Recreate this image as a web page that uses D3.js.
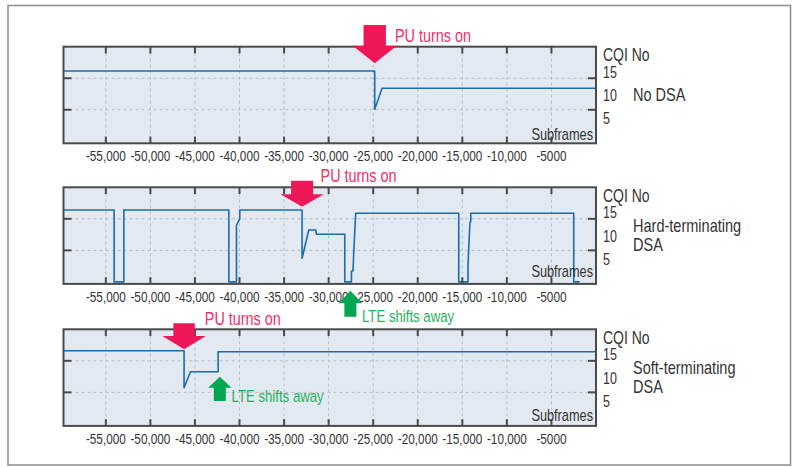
<!DOCTYPE html>
<html>
<head>
<meta charset="utf-8">
<script src="https://cdn.jsdelivr.net/npm/d3@7"></script>
<style>
  body { margin: 0; background: #fff; }
  svg { display: block; }
  text { font-family: "Liberation Sans", Arial, sans-serif; }
</style>
</head>
<body>
<svg id="chart" width="798" height="467"></svg>
<script>
// Subframe axis ticks and their printed labels
const xTicks = [-55000, -50000, -45000, -40000, -35000, -30000, -25000, -20000, -15000, -10000, -5000];
const xTickLabels = ["-55,000", "-50,000", "-45,000", "-40,000", "-35,000", "-30,000", "-25,000", "-20,000", "-15,000", "-10,000", "-5000"];
const cqiTickLabels = [15, 10, 5];
const cqiGrid = [10, 5];

// CQI traces: [subframe, CQI]
const noDsa = [
  [-59750, 11.15], [-24830, 11.15], [-24830, 5.07], [-24000, 8.4], [0, 8.4]
];
const hardDsa = [
  [-59750, 11.4], [-54070, 11.4], [-54070, 0], [-52980, 0], [-52980, 11.4],
  [-41200, 11.4], [-41200, 0], [-40340, 0], [-40340, 9.0], [-39970, 10.0], [-39970, 11.4],
  [-32980, 11.4], [-32980, 3.74], [-32230, 8.23], [-31450, 8.23], [-31370, 7.55],
  [-28190, 7.55], [-28190, 0], [-27440, 0], [-27440, 1.73], [-27260, 1.73],
  [-27180, 4.8], [-27080, 7.6], [-26960, 10.88],
  [-15400, 10.88], [-15400, 0], [-14360, 0], [-14360, 2.75], [-14150, 9.35], [-14050, 9.6], [-14050, 10.88],
  [-2500, 10.88], [-2500, 0], [-1830, 0]
];
const softDsa = [
  [-59750, 11.6], [-46220, 11.6], [-46220, 5.74], [-45500, 8.28], [-42400, 8.28], [-42400, 11.45], [0, 11.45]
];

const seriesNames = [["No DSA"], ["Hard-terminating", "DSA"], ["Soft-terminating", "DSA"]];
const puOnAt = [-24830, -32980, -46220];
const lteAwayAt = [null, -27560, -42210];
const puText = "PU turns on";
const lteText = "LTE shifts away";

const svg = d3.select("#chart");
const C = {
  frameBg: "#e3e9f1", frame: "#4a4a4a", grid: "#b9bcc2", line: "#1c6dad",
  pink: "#ee1758", pinkText: "#ee2f6c", green: "#00a651", greenText: "#1fb25a", text: "#333"
};

// add a text squeezed horizontally by k around its anchor point (condensed lettering)
function label(parent, tx, ty, str, size, k, opts = {}) {
  return parent.append("text")
    .attr("transform", `translate(${tx},${ty}) scale(${k},1)`)
    .attr("text-anchor", opts.anchor || "start")
    .attr("font-size", size)
    .attr("fill", opts.fill || C.text)
    .text(str);
}

svg.append("rect").attr("x", 8).attr("y", 5.5).attr("width", 782.5).attr("height", 459.5)
  .attr("fill", "none").attr("stroke", "#8c8c8c").attr("stroke-width", 1.5);

const x = d3.scaleLinear().domain([-59750, 0]).range([63.5, 596]);
const frameH = 96.6;

// per-panel layout
const panels = [
  { data: noDsa, top: 46.7, subOff: 3.5,
    pu: { tipCqi: 12.37, shaftW: 22.4, shaftH: 20.7, headW: 44, headH: 17.6, tx: 20.3, ty: -21.6 } },
  { data: hardDsa, top: 187.3, subOff: 6.7,
    pu: { tipCqi: 11.92, shaftW: 22, shaftH: 13.6, headW: 43.3, headH: 12.4, tx: 18.5, ty: -25 },
    lte: { tipCqi: -1.39, shaftW: 12, shaftH: 13.4, headW: 23.4, headH: 12.6, tx: 11.6, ty: 31.3 } },
  { data: softDsa, top: 329.3, subOff: 5.3,
    pu: { tipCqi: 11.83, shaftW: 21.4, shaftH: 12.7, headW: 43.4, headH: 13.3, tx: 20.7, ty: -24.3 },
    lte: { tipCqi: 7.48, shaftW: 12, shaftH: 13.3, headW: 23.4, headH: 11, tx: 11.7, ty: 25.6 } }
];

function arrowPath(tx, ty, a, dir) {
  // dir = 1 points down, dir = -1 points up
  const b = ty - dir * a.headH, t = b - dir * a.shaftH;
  return `M${tx - a.shaftW / 2},${t}L${tx + a.shaftW / 2},${t}L${tx + a.shaftW / 2},${b}` +
         `L${tx + a.headW / 2},${b}L${tx},${ty}L${tx - a.headW / 2},${b}L${tx - a.shaftW / 2},${b}Z`;
}

panels.forEach((p, i) => {
  const top = p.top, bottom = top + frameH;
  const y = d3.scaleLinear().domain([0, 15]).range([top + 94.6, top]);
  // right-hand CQI labels sit on their own compressed scale
  const labelY = d3.scaleLinear().domain([0, 15]).range([top + 31 + 15 * 4.66, top + 31]);
  const g = svg.append("g");
  const [x0, x1] = x.range();

  g.append("rect").attr("x", x0).attr("y", top).attr("width", x1 - x0).attr("height", frameH)
    .attr("fill", C.frameBg);

  g.selectAll(".vg").data(xTicks).join("line")
    .attr("x1", d => x(d)).attr("x2", d => x(d)).attr("y1", top).attr("y2", bottom)
    .attr("stroke", C.grid).attr("stroke-width", 1).attr("stroke-dasharray", "3,3");
  g.selectAll(".hg").data(cqiGrid).join("line")
    .attr("x1", x0).attr("x2", x1).attr("y1", d => y(d)).attr("y2", d => y(d))
    .attr("stroke", C.grid).attr("stroke-width", 1).attr("stroke-dasharray", "3,3");

  g.append("path").datum(p.data)
    .attr("d", d3.line().x(d => x(d[0])).y(d => y(d[1])))
    .attr("fill", "none").attr("stroke", C.line).attr("stroke-width", 1.6).attr("stroke-linejoin", "round");

  g.append("rect").attr("x", x0).attr("y", top).attr("width", x1 - x0).attr("height", frameH)
    .attr("fill", "none").attr("stroke", C.frame).attr("stroke-width", 2);

  // inward tick marks
  g.selectAll(".tt").data(xTicks).join("line")
    .attr("x1", d => x(d)).attr("x2", d => x(d)).attr("y1", top).attr("y2", top + 6.7)
    .attr("stroke", C.frame).attr("stroke-width", 2);
  g.selectAll(".bt").data(xTicks).join("line")
    .attr("x1", d => x(d)).attr("x2", d => x(d)).attr("y1", bottom).attr("y2", bottom - 6.7)
    .attr("stroke", C.frame).attr("stroke-width", 2);
  g.selectAll(".lt").data(cqiGrid).join("line")
    .attr("x1", x0).attr("x2", x0 + 8).attr("y1", d => y(d)).attr("y2", d => y(d))
    .attr("stroke", C.frame).attr("stroke-width", 2);
  g.selectAll(".rt").data(cqiGrid).join("line")
    .attr("x1", x1 - 8).attr("x2", x1).attr("y1", d => y(d)).attr("y2", d => y(d))
    .attr("stroke", C.frame).attr("stroke-width", 2);

  xTicks.forEach((t, k) => label(g, x(t), bottom + 18, xTickLabels[k], 15.5, 0.76, { anchor: "middle" }));

  label(g, x1 - 3, bottom - p.subOff, "Subframes", 17, 0.75, { anchor: "end" });
  label(g, 603, top + 14.6, "CQI No", 17.5, 0.8);
  cqiTickLabels.forEach(v => label(g, 603, labelY(v), String(v), 16, 0.78));

  const names = seriesNames[i];
  const nameTop = names.length === 1 ? top + 54.3 : top + 44.2;
  names.forEach((n, k) => label(g, 633, nameTop + k * 19, n, 17.5, 0.83));

  // annotations
  const pu = p.pu, px = x(puOnAt[i]), py = y(pu.tipCqi);
  g.append("path").attr("d", arrowPath(px, py, pu, 1)).attr("fill", C.pink);
  label(g, px + pu.tx, py + pu.ty, puText, 18, 0.8, { fill: C.pinkText });

  if (p.lte) {
    const l = p.lte, lx = x(lteAwayAt[i]), ly = y(l.tipCqi);
    g.append("path").attr("d", arrowPath(lx, ly, l, -1)).attr("fill", C.green);
    label(g, lx + l.tx, ly + l.ty, lteText, 16.3, 0.81, { fill: C.greenText });
  }
});
</script>
</body>
</html>
